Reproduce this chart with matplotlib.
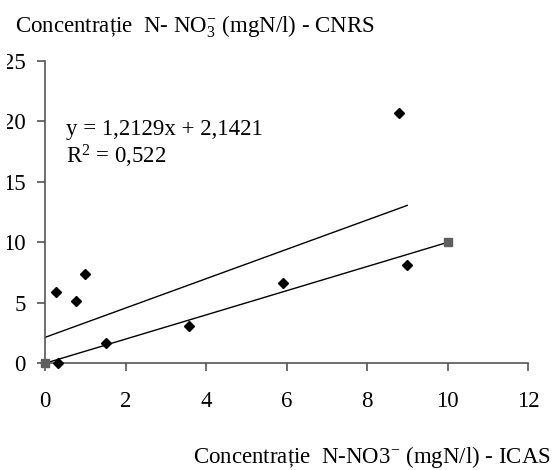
import matplotlib
matplotlib.use("Agg")
import matplotlib.pyplot as plt
from matplotlib.transforms import Bbox, TransformedBbox
import numpy as np

# Data
icas_x = [0.27, 0.33, 0.76, 0.99, 1.51, 3.57, 5.92, 8.79, 9.00]
cnrs_y = [5.92, 0.00, 5.18, 7.36, 1.70, 3.11, 6.67, 20.73, 8.13]
ref_x = [0, 10]
ref_y = [0, 10]
slope = 1.2129
intercept = 2.1421
eq_text = "y = 1,2129x + 2,1421"
r2 = "0,522"
x_ticks = [0, 2, 4, 6, 8, 10, 12]
y_ticks = [0, 5, 10, 15, 20, 25]

plt.rcParams['font.family'] = ['Liberation Serif', 'DejaVu Serif']
plt.rcParams['mathtext.fontset'] = 'custom'
plt.rcParams['mathtext.rm'] = 'Liberation Serif'
plt.rcParams['mathtext.it'] = 'Liberation Serif'

W, H = 557, 470
fig = plt.figure(figsize=(W/100, H/100), dpi=100)
ax = fig.add_axes([45/W, 1-363.3/H, (528-45)/W, (363.3-61)/H])

# trendline
tx = np.array([0, max(icas_x)])
ax.plot(tx, slope*tx + intercept, color='black', lw=1.0, zorder=2)
# reference series with line
ax.plot(ref_x, ref_y, color='black', lw=1.0, zorder=2)
ax.plot(ref_x, ref_y, ls='none', marker='s', ms=5.8, color='#5f5f5f', clip_on=False, zorder=4)
# data points
ax.plot(icas_x, cnrs_y, ls='none', marker='D', ms=4.6, color='black', clip_on=False, zorder=5)

ax.set_xlim(0, 12)
ax.set_ylim(0, 25)
ax.set_xticks(x_ticks)
ax.set_yticks(y_ticks)
for s in ['top', 'right']:
    ax.spines[s].set_visible(False)
for s in ['left', 'bottom']:
    ax.spines[s].set_color('#555555')
    ax.spines[s].set_linewidth(1.2)
ax.tick_params(axis='both', direction='out', length=6, width=1.2, color='#555555',
               labelsize=16.5)
ax.tick_params(axis='y', pad=8)
ax.tick_params(axis='x', pad=14)

# the reference clips the y tick labels a few pixels from the left edge
clip = TransformedBbox(Bbox([[7/W, 0], [1, 1]]), fig.transFigure)
for lbl in ax.get_yticklabels():
    lbl.set_clip_box(clip)
    lbl.set_clip_on(True)

fig.text(66/W, 1-135/H, eq_text, fontsize=16.5, va='baseline', ha='left')
fig.text(66/W, 1-164/H, "R$^{2}$ = " + r2, fontsize=16.5, va='baseline', ha='left')

fig.text(15/W, 1-32/H, "Concentrație  N- NO$_{3}^{-}$ (mgN/l) - CNRS",
         fontsize=16.5, va='baseline', ha='left')
fig.text(551/W, 1-463/H, "Concentrație  N-NO3$^{-}$ (mgN/l) - ICAS",
         fontsize=16.5, va='baseline', ha='right')

fig.savefig("out.png", dpi=100)
